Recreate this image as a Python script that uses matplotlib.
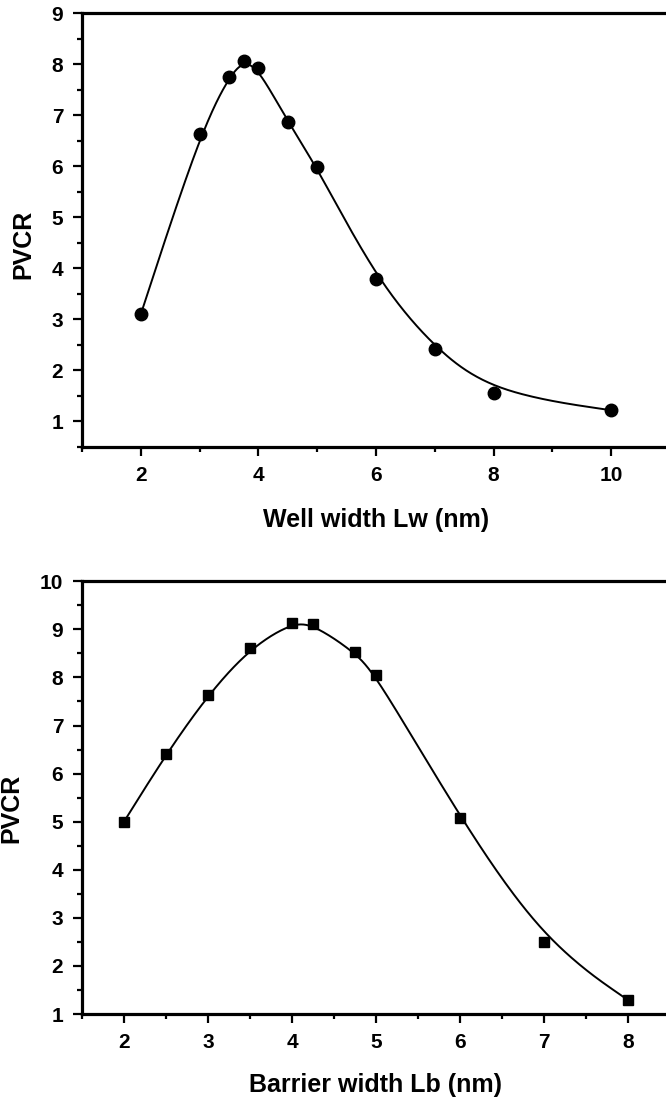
import numpy as np
import matplotlib
matplotlib.use("Agg")
import matplotlib.pyplot as plt
from matplotlib.ticker import MultipleLocator

# Daten
well_width = [2, 3, 3.5, 3.75, 4, 4.5, 5, 6, 7, 8, 10]
pvcr_well = [3.10, 6.63, 7.76, 8.07, 7.92, 6.87, 5.98, 3.79, 2.42, 1.56, 1.22]

barrier_width = [2, 2.5, 3, 3.5, 4, 4.25, 4.75, 5, 6, 7, 8]
pvcr_barrier = [5.00, 6.40, 7.64, 8.61, 9.14, 9.11, 8.52, 8.06, 5.07, 2.50, 1.29]

plt.rcParams['font.family'] = ['Liberation Sans', 'DejaVu Sans']
plt.rcParams['font.weight'] = 'bold'


def bspline(xs, ys, n=40):
    # B-Spline-Verbindung wie in Origin (Datenpunkte als Kontrollpunkte)
    p = np.column_stack([xs, ys]).astype(float)
    p = np.vstack([p[0], p[0], p, p[-1], p[-1]])
    m = np.array([[-1, 3, -3, 1], [3, -6, 3, 0], [-3, 0, 3, 0], [1, 4, 1, 0]]) / 6.0
    t = np.linspace(0, 1, n)
    T = np.column_stack([t**3, t**2, t, np.ones_like(t)])
    pts = [T @ m @ p[i:i + 4] for i in range(len(p) - 3)]
    pts = np.vstack(pts)
    return pts[:, 0], pts[:, 1]


def style_axes(ax):
    for s in ['left', 'bottom', 'top']:
        ax.spines[s].set_linewidth(2.3)
    ax.spines['right'].set_visible(False)
    ax.tick_params(which='major', direction='out', length=6.5, width=1.6,
                   labelsize=15, pad=7, top=False, right=False)
    ax.tick_params(which='minor', direction='out', length=3.5, width=1.6,
                   top=False, right=False)
    for lab in ax.get_xticklabels() + ax.get_yticklabels():
        lab.set_fontweight('bold')


fig = plt.figure(figsize=(6.66, 11.04), dpi=100)

# oberes Diagramm: Well width
ax1 = fig.add_axes([0.1231, 0.5951, 0.8829, 0.3929])
bx, by = bspline(well_width, pvcr_well)
ax1.plot(bx, by, color='black', linewidth=1.4)
ax1.plot(well_width, pvcr_well, 'o', color='black', markersize=9)
ax1.set_xlim(1, 11)
ax1.set_ylim(0.5, 9)
ax1.xaxis.set_minor_locator(MultipleLocator(1))
ax1.yaxis.set_minor_locator(MultipleLocator(0.5))
ax1.set_xticks([2, 4, 6, 8, 10])
ax1.set_yticks(range(1, 10))
style_axes(ax1)
ax1.set_xlabel("Well width Lw (nm)", fontsize=18, fontweight='bold', labelpad=17)
ax1.set_ylabel("PVCR", fontsize=18, fontweight='bold')
ax1.yaxis.set_label_coords(-0.080, 0.468)

# unteres Diagramm: Barrier width
ax2 = fig.add_axes([0.1231, 0.0815, 0.8829, 0.3920])
bx, by = bspline(barrier_width, pvcr_barrier)
ax2.plot(bx, by, color='black', linewidth=1.4)
ax2.plot(barrier_width, pvcr_barrier, 's', color='black', markersize=7.5)
ax2.set_xlim(1.5, 8.5)
ax2.set_ylim(1, 10)
ax2.xaxis.set_minor_locator(MultipleLocator(0.5))
ax2.yaxis.set_minor_locator(MultipleLocator(0.5))
ax2.set_xticks(range(2, 9))
ax2.set_yticks(range(1, 11))
style_axes(ax2)
ax2.set_xlabel("Barrier width Lb (nm)", fontsize=18, fontweight='bold', labelpad=15)
ax2.set_ylabel("PVCR", fontsize=18, fontweight='bold')
ax2.yaxis.set_label_coords(-0.100, 0.476)

fig.savefig("out.png", dpi=100)
plt.close(fig)
